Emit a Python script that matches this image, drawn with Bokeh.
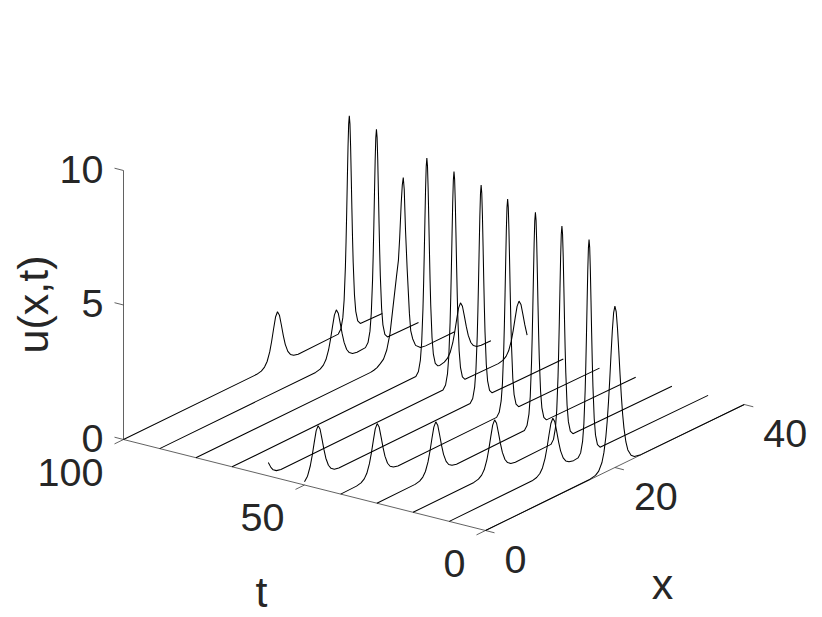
from math import pi
from bokeh.plotting import figure
from bokeh.models import Range1d
from bokeh.core.properties import value
from bokeh.embed import file_html
from bokeh.resources import INLINE

# ---- data ----
T_TICKS = [0, 50, 100]
X_TICKS = [0, 20, 40]
U_TICKS = [0, 5, 10]
X_LIMIT = 40
T_LIMIT = 100
U_LIMIT = 10

# heights of the narrow (u~8) and the low (u~2) pulse
TALL_U = [.03, .17, .56, 1.19, 2.42, 3.34, 4.44, 5.65, 6.80, 7.64, 7.95, 7.64, 6.80, 5.65, 4.44, 3.34, 2.42, 1.19, .56, .17, .03]
LOW_U = [.01, .05, .14, .30, .61, .97, 1.40, 1.80, 1.96, 1.80, 1.40, .97, .61, .30, .14, .05, .01]

X_T100 = [0, 20.6, 21.3, 21.8, 22.2, 22.6, 22.9, 23.2, 23.5, 23.8, 24.1, 24.4, 24.7, 25.0, 25.4, 25.8, 26.3, 27.0,
          33.2, 33.6, 33.9, 34.1, 34.3, 34.4, 34.5, 34.6, 34.7, 34.8, 34.9, 35.0, 35.1, 35.2, 35.3, 35.4, 35.5, 35.7, 35.9, 36.2, 36.6, 40]
U_T100 = [0] + LOW_U + TALL_U + [0]

X_T90 = [0, 24.1, 24.8, 25.3, 25.7, 26.1, 26.4, 26.7, 27.0, 27.3, 27.6, 27.9, 28.2, 28.5, 28.9, 29.3, 29.8, 30.5,
         31.8, 32.2, 32.5, 32.7, 32.9, 33.0, 33.1, 33.2, 33.3, 33.4, 33.5, 33.6, 33.7, 33.8, 33.9, 34.0, 34.1, 34.3, 34.5, 34.8, 35.2, 40]
U_T90 = [0] + LOW_U + TALL_U + [0]

X_T80 = [0, 27.0, 27.5, 28.0, 28.5, 29.0, 29.5, 30.0, 30.5, 31.0, 31.3, 31.5, 31.73, 31.9, 32.05, 32.2, 32.4, 32.65, 33.0, 33.2, 33.5, 33.95, 34.7, 35.5, 40]
U_T80 = [0, .01, .03, .07, .16, .27, .55, 1.10, 2.10, 3.10, 3.67, 4.50, 5.73, 6.40, 6.66, 6.20, 4.65, 3.20, 1.50, .84, .50, .20, .03, 0, 0]

X_T70 = [0, 28.4, 28.8, 29.1, 29.3, 29.5, 29.6, 29.7, 29.8, 29.9, 30.0, 30.1, 30.2, 30.3, 30.4, 30.5, 30.6, 30.7, 30.9, 31.1, 31.4, 31.8,
         32.1, 32.8, 33.3, 33.7, 34.1, 34.4, 34.7, 35.0, 35.3, 35.6, 35.9, 36.2, 36.5, 36.9, 37.3, 37.8, 38.5, 40]
U_T70 = [0] + TALL_U + LOW_U + [0]

X_T60 = [0, .4, .75, 1.25, 1.95,
         27.0, 27.4, 27.7, 27.9, 28.1, 28.2, 28.3, 28.4, 28.5, 28.6, 28.7, 28.8, 28.9, 29.0, 29.1, 29.2, 29.3, 29.5, 29.7, 30.0, 30.4,
         35.55, 36.25, 36.75, 37.15, 37.55, 37.85, 38.15, 38.45, 38.75, 39.05, 39.35, 39.65, 39.95, 40]
U_T60 = [.50, .27, .14, .05, .01] + TALL_U + [.01, .05, .14, .30, .61, .97, 1.40, 1.80, 1.96, 1.80, 1.40, .97, .61, .55]

X_T50 = [0, .4, .5, .9, 1.2, 1.5, 1.8, 2.1, 2.4, 2.7, 3.0, 3.3, 3.7, 4.1, 4.6, 5.3,
         25.6, 26.0, 26.3, 26.5, 26.7, 26.8, 26.9, 27.0, 27.1, 27.2, 27.3, 27.4, 27.5, 27.6, 27.7, 27.8, 27.9, 28.1, 28.3, 28.6, 29.0, 40]
U_T50 = [.12, .25, .30, .61, .97, 1.40, 1.80, 1.96, 1.80, 1.40, .97, .61, .30, .14, .05, .01] + TALL_U + [0]

X_T40 = [0, 2.44, 3.14, 3.64, 4.04, 4.44, 4.74, 5.04, 5.34, 5.64, 5.94, 6.24, 6.54, 6.84, 7.24, 7.64, 8.14, 8.84,
         24.1, 24.5, 24.8, 25.0, 25.2, 25.3, 25.4, 25.5, 25.6, 25.7, 25.8, 25.9, 26.0, 26.1, 26.2, 26.3, 26.4, 26.6, 26.8, 27.1, 27.5, 40]
U_T40 = [0] + LOW_U + TALL_U + [0]

X_T30 = [0, 5.9, 6.6, 7.1, 7.5, 7.9, 8.2, 8.5, 8.8, 9.1, 9.4, 9.7, 10.0, 10.3, 10.7, 11.1, 11.6, 12.3,
         22.8, 23.2, 23.5, 23.7, 23.9, 24.0, 24.1, 24.2, 24.3, 24.4, 24.5, 24.6, 24.7, 24.8, 24.9, 25.0, 25.1, 25.3, 25.5, 25.8, 26.2, 40]
U_T30 = [0] + LOW_U + TALL_U + [0]

X_T20 = [0, 9.4, 10.1, 10.6, 11.0, 11.4, 11.7, 12.0, 12.3, 12.6, 12.9, 13.2, 13.5, 13.8, 14.2, 14.6, 15.1, 15.8,
         21.3, 21.7, 22.0, 22.2, 22.4, 22.5, 22.6, 22.7, 22.8, 22.9, 23.0, 23.1, 23.2, 23.3, 23.4, 23.5, 23.6, 23.8, 24.0, 24.3, 24.7, 40]
U_T20 = [0] + LOW_U + TALL_U + [0]

X_T10 = [0, 12.8, 13.5, 14.0, 14.4, 14.8, 15.1, 15.4, 15.7, 16.0, 16.3, 16.6, 16.9, 17.2, 17.6, 18.0, 18.5, 19.2,
         19.9, 20.3, 20.6, 20.8, 21.0, 21.1, 21.2, 21.3, 21.4, 21.5, 21.6, 21.7, 21.8, 21.9, 22.0, 22.1, 22.2, 22.4, 22.6, 22.9, 23.3, 40]
U_T10 = [0] + LOW_U + TALL_U + [0]

X_T0 = [0, 16, 17, 17.5, 18, 18.3, 18.6, 18.8, 19, 19.2, 19.4, 19.6, 19.8, 20, 20.2, 20.4, 20.6, 20.8, 21, 21.2, 21.4, 21.7, 22, 22.5, 23, 24, 40]
U_T0 = [0, .01, .06, .16, .42, .75, 1.30, 1.83, 2.52, 3.35, 4.27, 5.13, 5.77, 6, 5.77, 5.13, 4.27, 3.35, 2.52, 1.83, 1.30, .75, .42, .16, .06, .01, 0]

CURVES = [(100, X_T100, U_T100), (90, X_T90, U_T90), (80, X_T80, U_T80), (70, X_T70, U_T70),
          (60, X_T60, U_T60), (50, X_T50, U_T50), (40, X_T40, U_T40), (30, X_T30, U_T30),
          (20, X_T20, U_T20), (10, X_T10, U_T10), (0, X_T0, U_T0)]


# ---- oblique view of (x, t, u) ----
def sx(x, t):
    return 485 + 6.47 * x - 3.62 * t


def sy(x, t, u):
    return 530 - 3.15 * x - 0.91 * t - 26.9 * u


p = figure(width=822, height=617, output_backend="svg", toolbar_location=None,
           x_range=Range1d(0, 822), y_range=Range1d(617, 0),
           x_axis_type=None, y_axis_type=None, min_border=0)
p.grid.visible = False
p.outline_line_color = None

AX = "#3a3a3a"
AX_W = 0.8
TXT = "#262626"
FONT = value("Liberation Sans")
TICK_SIZE = value("39.5px")
TITLE_SIZE = value("43px")

# axis lines
p.line([sx(0, T_LIMIT), sx(0, 0)], [sy(0, T_LIMIT, 0), sy(0, 0, 0)], line_color=AX, line_width=AX_W)
p.line([sx(0, 0), sx(X_LIMIT, 0)], [sy(0, 0, 0), sy(X_LIMIT, 0, 0)], line_color=AX, line_width=AX_W)
p.line([sx(0, T_LIMIT), sx(0, T_LIMIT)], [sy(0, T_LIMIT, 0), sy(0, T_LIMIT, U_LIMIT)], line_color=AX, line_width=AX_W)

# ticks
for u in U_TICKS:
    p.line([sx(0, T_LIMIT), sx(0, T_LIMIT) - 9], [sy(0, T_LIMIT, u), sy(0, T_LIMIT, u) - 2.3], line_color=AX, line_width=AX_W)
for t in T_TICKS:
    p.line([sx(0, t), sx(0, t) - 9], [sy(0, t, 0), sy(0, t, 0) + 4.4], line_color=AX, line_width=AX_W)
for x in X_TICKS:
    p.line([sx(x, 0), sx(x, 0) + 9], [sy(x, 0, 0), sy(x, 0, 0) + 2.3], line_color=AX, line_width=AX_W)

# curves
for t, xs, us in CURVES:
    p.line([sx(x, t) for x in xs], [sy(x, t, u) for x, u in zip(xs, us)], line_color="black", line_width=1.05)

# tick labels
p.text([sx(0, T_LIMIT) - 20 for u in U_TICKS], [sy(0, T_LIMIT, u) - 1.5 for u in U_TICKS], text=[str(u) for u in U_TICKS],
       text_font=FONT, text_font_size=TICK_SIZE, text_color=TXT, text_align="right", text_baseline="middle")
p.text([sx(0, t) - 20 for t in T_TICKS], [sy(0, t, 0) + 32.5 for t in T_TICKS], text=[str(t) for t in T_TICKS],
       text_font=FONT, text_font_size=TICK_SIZE, text_color=TXT, text_align="right", text_baseline="middle")
p.text([sx(x, 0) + 19 for x in X_TICKS], [sy(x, 0, 0) + 28.5 for x in X_TICKS], text=[str(x) for x in X_TICKS],
       text_font=FONT, text_font_size=TICK_SIZE, text_color=TXT, text_align="left", text_baseline="middle")

# axis titles
p.text([261], [591.5], text=["t"], text_font=FONT, text_font_size=TITLE_SIZE, text_color=TXT,
       text_align="center", text_baseline="middle")
p.text([662], [583.5], text=["x"], text_font=FONT, text_font_size=TITLE_SIZE, text_color=TXT,
       text_align="center", text_baseline="middle")
p.text([32.5], [304], text=["u(x,t)"], angle=pi / 2, text_font=FONT, text_font_size=TITLE_SIZE, text_color=TXT,
       text_align="center", text_baseline="middle")

open("out.html", "w").write(file_html(p, INLINE))
